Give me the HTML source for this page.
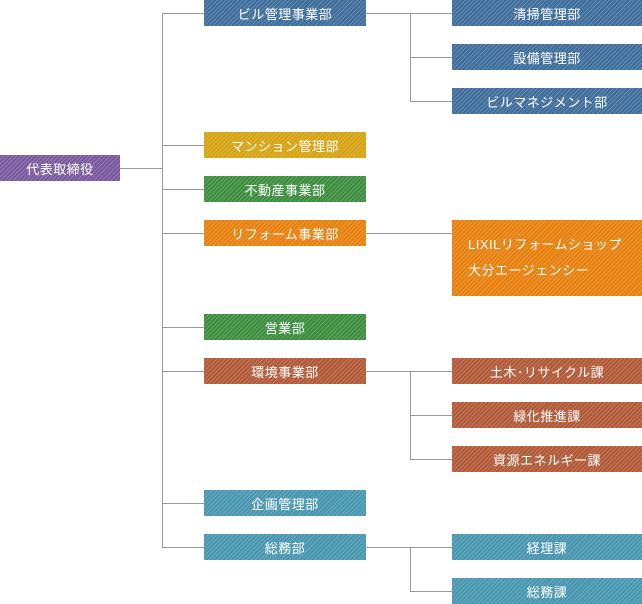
<!DOCTYPE html>
<html><head><meta charset="utf-8"><style>
body{margin:0;width:642px;height:604px;position:relative;background:#fff;overflow:hidden;font-family:"Liberation Sans","Noto Sans CJK JP",sans-serif}
.b{position:absolute;height:26px;color:#fff;font-size:13px;display:flex;align-items:center;justify-content:center;letter-spacing:.5px;
background-image:repeating-linear-gradient(135deg,rgba(255,255,255,.18) 0 1px,transparent 1px 3px)}
.l{position:absolute;background:#999}
.p{background-color:#7a5a9e}.bl{background-color:#3f6e9c}.y{background-color:#d6a312}.g{background-color:#3c8e3e}
.o{background-color:#e8800e}.br{background-color:#b25a38}.t{background-color:#4896b0}
.l1{left:204px;width:162px}.l2{left:452px;width:190px}
</style></head><body>
<div class="l" style="left:120px;top:168px;width:42px;height:1px"></div>
<div class="l" style="left:162px;top:13px;width:1px;height:535px"></div>
<div class="l" style="left:162px;top:13px;width:42px;height:1px"></div>
<div class="l" style="left:162px;top:145px;width:42px;height:1px"></div>
<div class="l" style="left:162px;top:189px;width:42px;height:1px"></div>
<div class="l" style="left:162px;top:233px;width:42px;height:1px"></div>
<div class="l" style="left:162px;top:327px;width:42px;height:1px"></div>
<div class="l" style="left:162px;top:371px;width:42px;height:1px"></div>
<div class="l" style="left:162px;top:503px;width:42px;height:1px"></div>
<div class="l" style="left:162px;top:547px;width:42px;height:1px"></div>

<div class="l" style="left:366px;top:13px;width:86px;height:1px"></div>
<div class="l" style="left:410px;top:13px;width:1px;height:89px"></div>
<div class="l" style="left:410px;top:57px;width:42px;height:1px"></div>
<div class="l" style="left:410px;top:101px;width:42px;height:1px"></div>

<div class="l" style="left:366px;top:233px;width:86px;height:1px"></div>

<div class="l" style="left:366px;top:371px;width:86px;height:1px"></div>
<div class="l" style="left:410px;top:371px;width:1px;height:89px"></div>
<div class="l" style="left:410px;top:415px;width:42px;height:1px"></div>
<div class="l" style="left:410px;top:459px;width:42px;height:1px"></div>

<div class="l" style="left:366px;top:547px;width:86px;height:1px"></div>
<div class="l" style="left:410px;top:547px;width:1px;height:45px"></div>
<div class="l" style="left:410px;top:591px;width:42px;height:1px"></div>

<div class="b p" style="left:0;top:155px;width:120px">代表取締役</div>
<div class="b bl l1" style="top:0">ビル管理事業部</div>
<div class="b y l1" style="top:132px">マンション管理部</div>
<div class="b g l1" style="top:176px">不動産事業部</div>
<div class="b o l1" style="top:220px">リフォーム事業部</div>
<div class="b g l1" style="top:314px">営業部</div>
<div class="b br l1" style="top:358px">環境事業部</div>
<div class="b t l1" style="top:490px">企画管理部</div>
<div class="b t l1" style="top:534px">総務部</div>

<div class="b bl l2" style="top:0">清掃管理部</div>
<div class="b bl l2" style="top:44px">設備管理部</div>
<div class="b bl l2" style="top:88px">ビルマネジメント部</div>
<div class="b o l2" style="top:220px;height:76px;justify-content:flex-start;padding-left:16px;box-sizing:border-box;line-height:26px;display:block;padding-top:12px">LIXILリフォームショップ<br>大分エージェンシー</div>
<div class="b br l2" style="top:358px">土木･リサイクル課</div>
<div class="b br l2" style="top:402px">緑化推進課</div>
<div class="b br l2" style="top:446px">資源エネルギー課</div>
<div class="b t l2" style="top:534px">経理課</div>
<div class="b t l2" style="top:578px">総務課</div>
</body></html>
